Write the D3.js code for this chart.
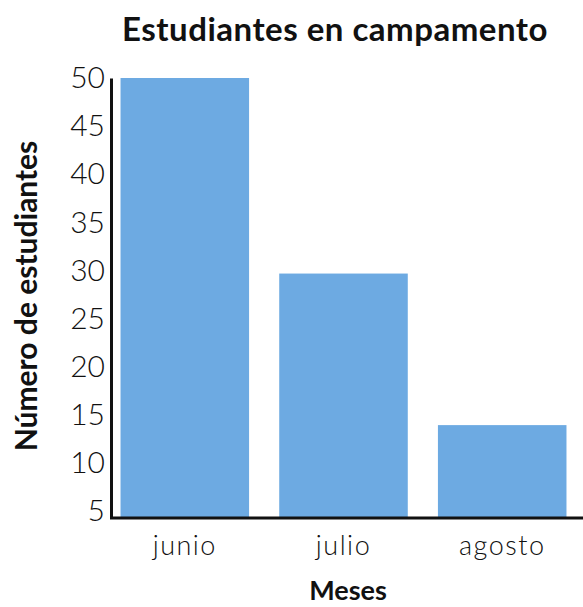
<!DOCTYPE html>
<html>
<head>
<meta charset="utf-8">
<script src="https://cdn.jsdelivr.net/npm/d3@7"></script>
<style>
  body { margin: 0; background: #fff; }
  text { font-family: Lato, "Noto Sans", sans-serif; fill: #111; }
</style>
</head>
<body>
<div id="chart"></div>
<script>
const months = ["junio", "julio", "agosto"];
const students = [50, 30, 14.5];
const yTicks = [5, 10, 15, 20, 25, 30, 35, 40, 45, 50];

const width = 583;
const height = 607;

const svg = d3.select("#chart")
  .append("svg")
  .attr("width", width)
  .attr("height", height);

const x = d3.scaleBand()
  .domain(months)
  .range([111, 576])
  .paddingInner(0.19)
  .paddingOuter(0.06);

const y = d3.scaleLinear()
  .domain([5, 50])
  .range([518, 78]);

// Bars
svg.selectAll(".bar")
  .data(months)
  .enter().append("rect")
  .attr("class", "bar")
  .attr("x", d => x(d))
  .attr("width", x.bandwidth())
  .attr("y", (d, i) => y(students[i]))
  .attr("height", (d, i) => y(5) - y(students[i]))
  .attr("fill", "#6daae2");

// Y axis
const yAxis = svg.append("g")
  .attr("transform", "translate(111,0)")
  .call(d3.axisLeft(y).tickValues(yTicks).tickSize(0).tickPadding(6));
yAxis.select(".domain").attr("stroke", "#111").attr("stroke-width", 3);
yAxis.selectAll("text")
  .style("font-size", "30px")
  .style("font-weight", 300)
  .attr("dy", (d) => (0.32 - (50 - d) * 0.005) + "em");

// X axis
const xAxis = svg.append("g")
  .attr("transform", "translate(0,518)")
  .call(d3.axisBottom(x).tickSize(0).tickPadding(18));
xAxis.select(".domain").remove();
xAxis.append("line")
  .attr("x1", 110).attr("x2", width)
  .attr("stroke", "#111").attr("stroke-width", 3);
xAxis.selectAll("text")
  .style("font-size", "27px")
  .style("font-weight", 300)
  .style("letter-spacing", "1.5px");

// Title
svg.append("text")
  .attr("x", 335)
  .attr("y", 41)
  .attr("text-anchor", "middle")
  .style("font-size", "33px")
  .style("font-weight", "bold")
  .style("letter-spacing", "0.5px")
  .text("Estudiantes en campamento");

// Axis titles
svg.append("text")
  .attr("x", 348)
  .attr("y", 600)
  .attr("text-anchor", "middle")
  .style("font-size", "27px")
  .style("font-weight", "bold")
  .text("Meses");

svg.append("text")
  .attr("transform", "translate(37,296) rotate(-90)")
  .attr("text-anchor", "middle")
  .style("font-size", "30px")
  .style("font-weight", "bold")
  .text("Número de estudiantes");
</script>
</body>
</html>
